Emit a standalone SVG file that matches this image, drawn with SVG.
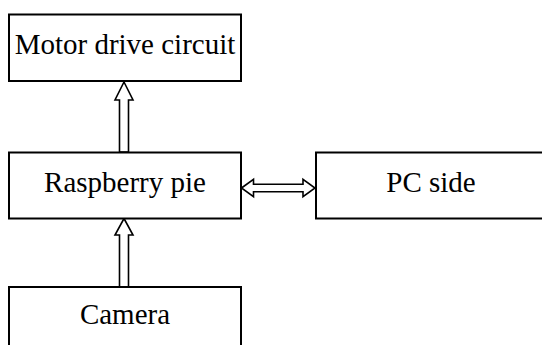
<svg xmlns="http://www.w3.org/2000/svg" width="542" height="345" viewBox="0 0 542 345">
<style>
.box{fill:#fff;stroke:#000;stroke-width:2}
.lbl{font-family:"Liberation Serif","Times New Roman",serif;font-size:29px;fill:#000;text-anchor:middle}
.arr{fill:#fff;stroke:#000;stroke-width:1.6;stroke-linejoin:miter}
</style>
<rect width="542" height="345" fill="#fff"/>
<g id="connectors">
<polygon class="arr" points="124,82 133,100 128.5,100 128.5,152 119.5,152 119.5,100 115,100"/>
<polygon class="arr" points="124,218.5 133,235 128.5,235 128.5,287 119.5,287 119.5,235 115,235"/>
<polygon class="arr" points="241.5,188 253.5,179.3 253.5,184.3 303,184.3 303,179.3 315,188 303,196.7 303,191.7 253.5,191.7 253.5,196.7"/>
</g>
<g id="motor">
<rect class="box" x="9" y="14.5" width="232" height="66.5"/>
<text class="lbl" x="125" y="53.5">Motor drive circuit</text>
</g>
<g id="raspberry">
<rect class="box" x="9" y="152.5" width="232" height="66"/>
<text class="lbl" x="125" y="192">Raspberry pie</text>
</g>
<g id="pc">
<rect class="box" x="316" y="152.5" width="232" height="66"/>
<text class="lbl" x="431" y="192">PC side</text>
</g>
<g id="camera">
<rect class="box" x="9" y="287" width="232" height="70"/>
<text class="lbl" x="125" y="324">Camera</text>
</g>
</svg>
